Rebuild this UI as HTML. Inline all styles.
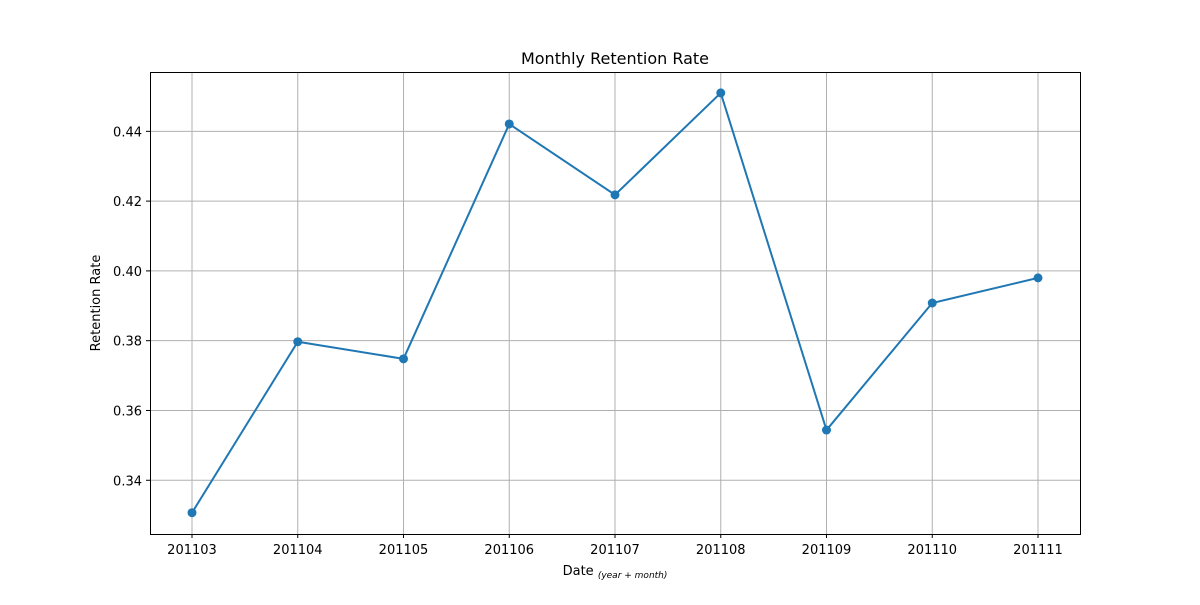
<!DOCTYPE html>
<html><head><meta charset="utf-8"><style>
body{margin:0;background:#fff;font-family:"Liberation Sans","DejaVu Sans",sans-serif;}
svg text{font-family:"DejaVu Sans","Liberation Sans",sans-serif;}
</style></head><body>
<svg id="chart" width="1200" height="600">
<text x="615" y="64" text-anchor="middle" font-size="16">Monthly Retention Rate</text>
<g id="grid"></g><g id="axes"></g><g id="series"></g>
<rect x="150.5" y="72.5" width="930" height="462" fill="none" stroke="#000" stroke-width="1"/>
<text x="100" y="303" text-anchor="middle" font-size="13" transform="rotate(-90 100 303)">Retention Rate</text>
<text x="615" y="575" text-anchor="middle" font-size="13">Date <tspan font-size="9" font-style="italic" dy="3">(year + month)</tspan></text>
</svg>
<script>
const categories=["201103","201104","201105","201106","201107","201108","201109","201110","201111"];
const retention=[0.3307,0.3797,0.3748,0.4421,0.4218,0.4510,0.3544,0.3908,0.3980];
const yTicks=[0.34,0.36,0.38,0.40,0.42,0.44];
const yTickLabels=["0.34","0.36","0.38","0.40","0.42","0.44"];
const NS="http://www.w3.org/2000/svg";
const L=150,R=1080,T=72,B=534,yMin=0.3246,yMax=0.4570;
function xs(i){return 192+i*(1038-192)/(categories.length-1);}
function ys(v){return B-(v-yMin)/(yMax-yMin)*(B-T);}
function mk(tag,attrs,parent){const e=document.createElementNS(NS,tag);for(const k in attrs)e.setAttribute(k,attrs[k]);parent.appendChild(e);return e;}
const grid=document.getElementById('grid'),axes=document.getElementById('axes'),ser=document.getElementById('series');
categories.forEach((c,i)=>{const x=xs(i);
 const g=mk('line',{x1:x,x2:x,y1:T,y2:B,stroke:'#b0b0b0','stroke-width':1},grid);
 
 
 mk('line',{x1:x,x2:x,y1:B,y2:B+4,stroke:'#000'},axes);
 const t=mk('text',{x:x,y:B+20,'text-anchor':'middle','font-size':13},axes);t.textContent=c;
 
 
});
yTicks.forEach((v,i)=>{const y=ys(v);
 const g=mk('line',{x1:L,x2:R,y1:y,y2:y,stroke:'#b0b0b0','stroke-width':1},grid);
 
 
 mk('line',{x1:L-4,x2:L,y1:y,y2:y,stroke:'#000'},axes);
 const t=mk('text',{x:L-8,y:y+5,'text-anchor':'end','font-size':13},axes);t.textContent=yTickLabels[i];
 
 
});
const pts=retention.map((v,i)=>xs(i)+','+ys(v)).join(' ');
const line=mk('polyline',{points:pts,fill:'none',stroke:'#1f77b4','stroke-width':2},ser);


retention.forEach((v,i)=>{const c=mk('circle',{cx:xs(i),cy:ys(v),r:4.5,fill:'#1f77b4'},ser);
 
 
});
</script>
</body></html>
